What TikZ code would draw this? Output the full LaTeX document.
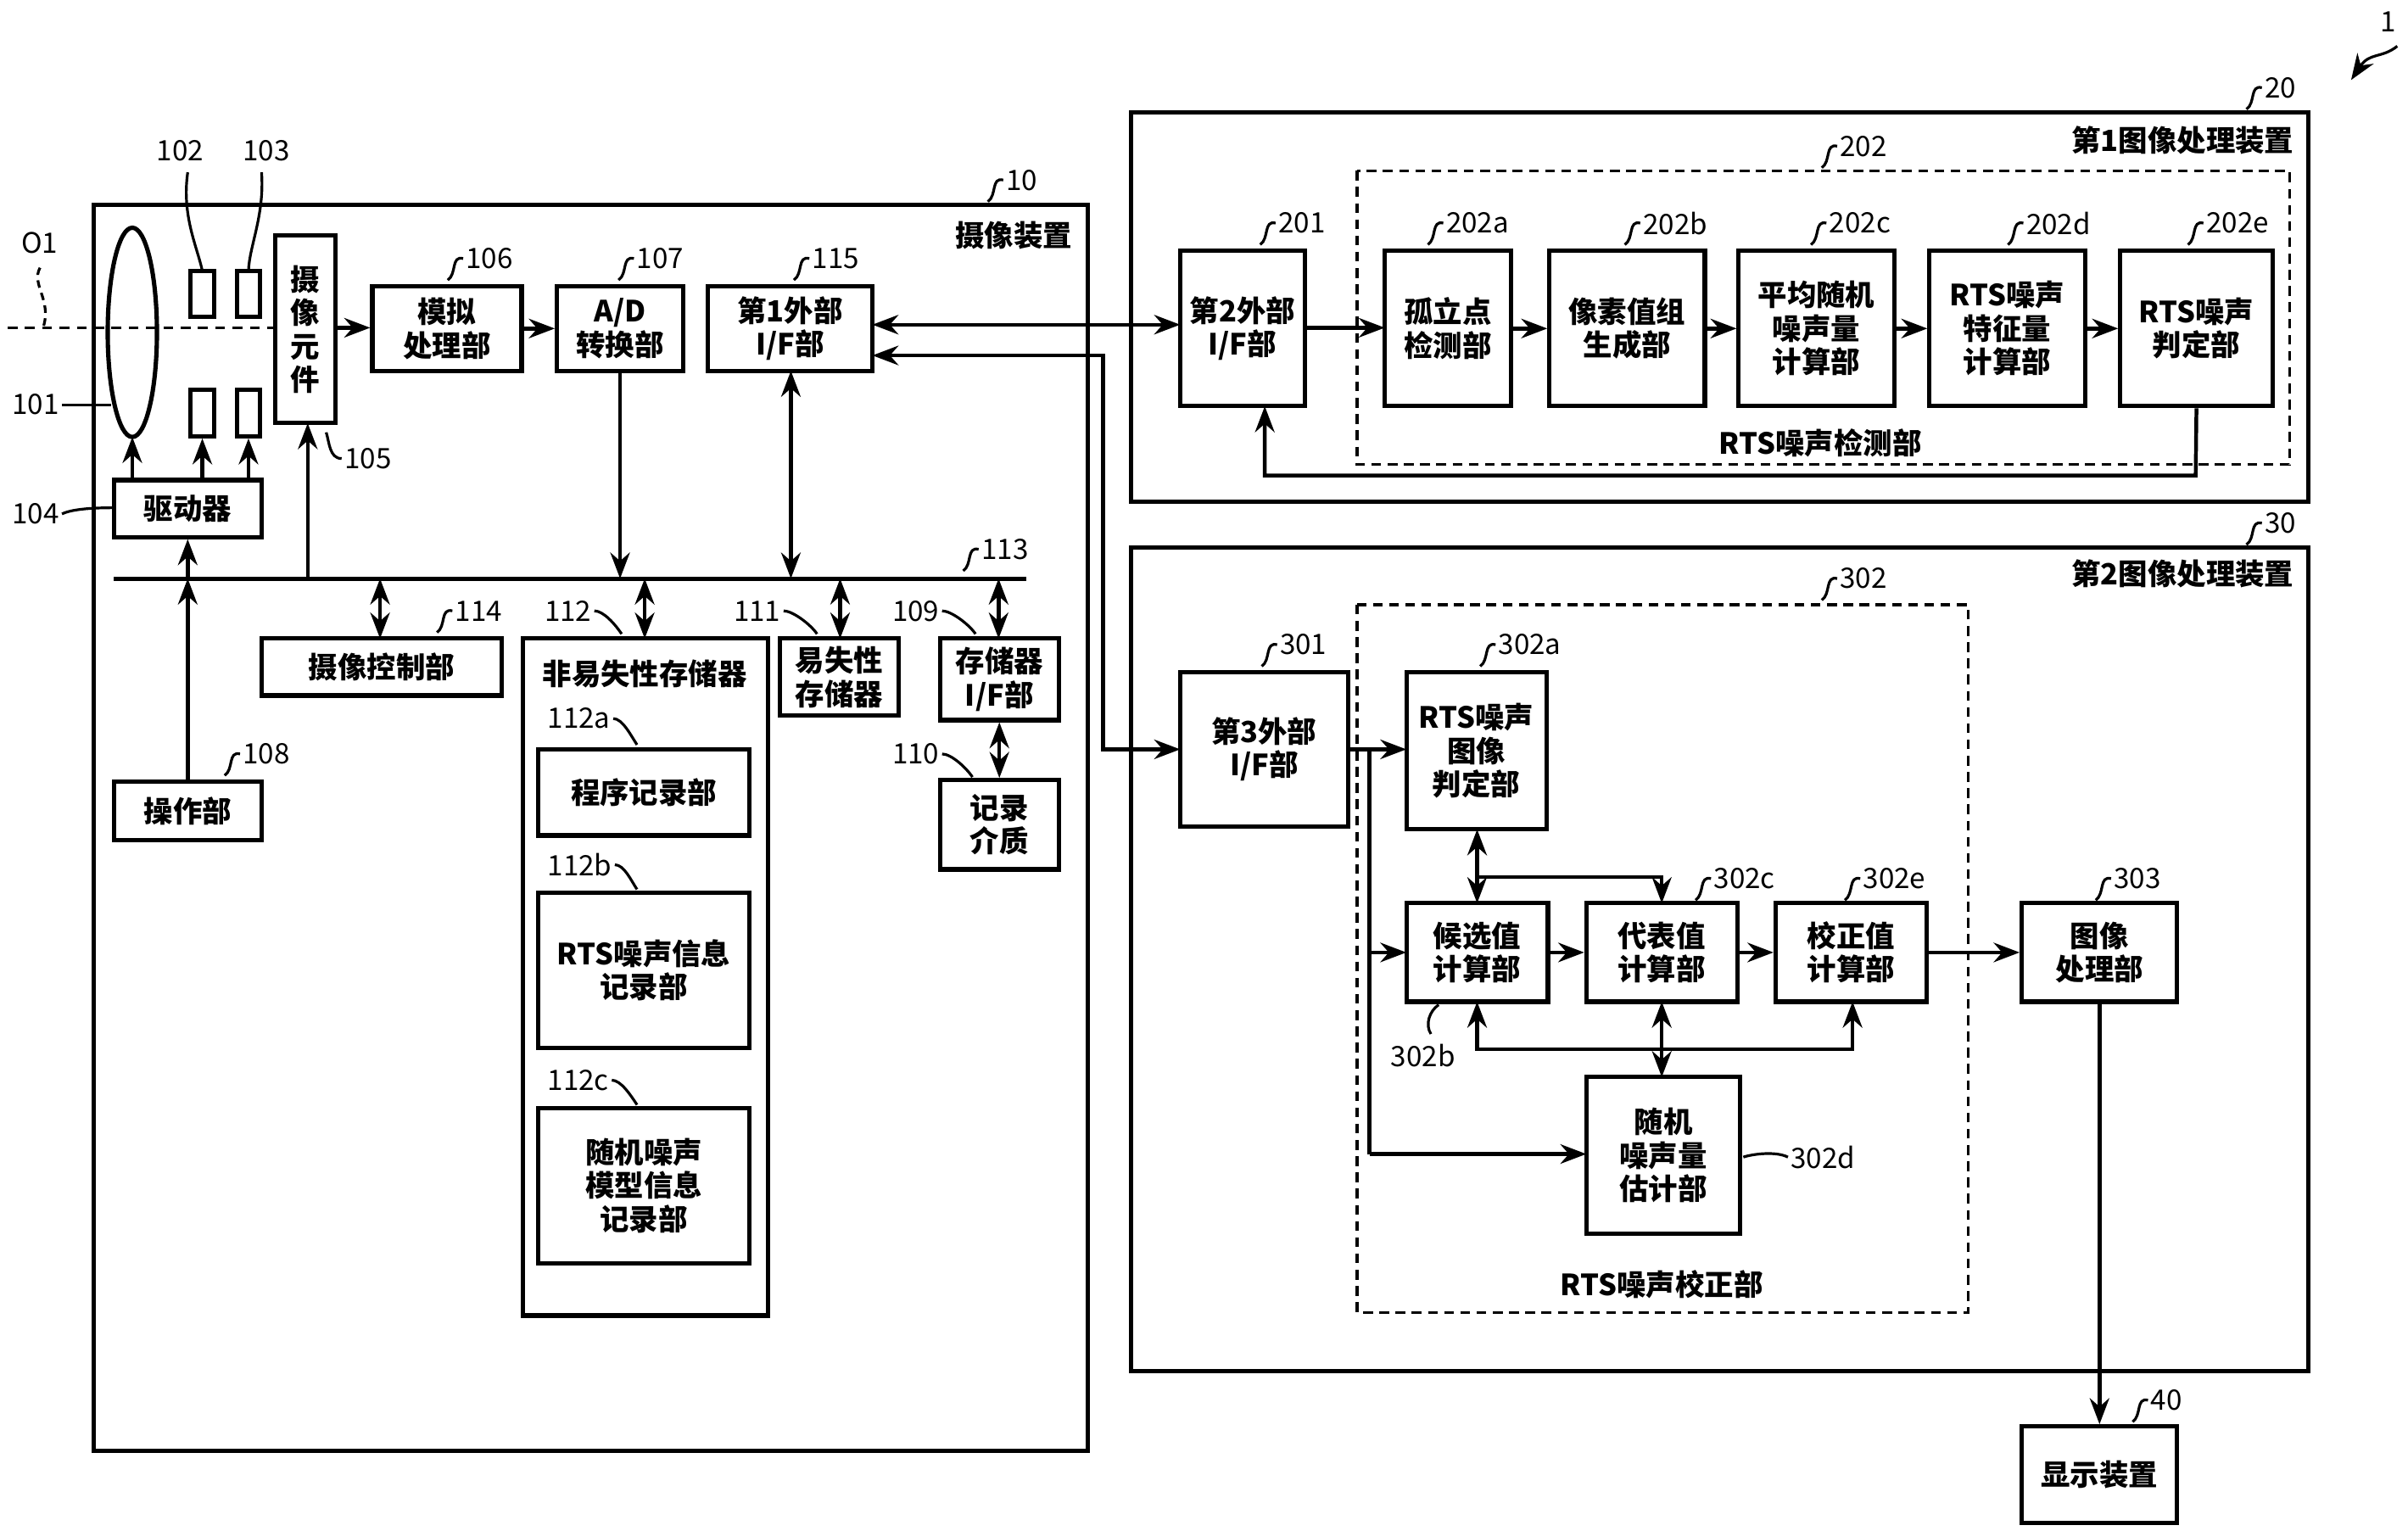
\documentclass[tikz,border=0pt]{standalone}
\usepackage{fontspec}
\setmainfont{Noto Sans CJK SC}
\usetikzlibrary{arrows.meta,shapes.geometric}
\begin{document}
\begin{tikzpicture}[x=0.05cm,y=-0.05cm,line width=3.5pt,
 box/.style={draw,line width=4pt,align=center,inner sep=0pt,font=\fontsize{27}{31}\selectfont\bfseries},
 ar/.style={-{Stealth[length=24pt,width=18pt]}},
 dar/.style={{Stealth[length=24pt,width=18pt]}-{Stealth[length=24pt,width=18pt]}},
 lb/.style={font=\fontsize{26}{28}\selectfont,anchor=west,inner sep=1pt},
 ttl/.style={font=\fontsize{27}{31}\selectfont\bfseries,inner sep=0pt},
 sq/.style={line width=2.5pt}]
\useasboundingbox (0,0) rectangle (1565,995);
\newcommand\bx[6]{\node[box,minimum width={(#4-#2)*0.05cm},minimum height={(#5-#3)*0.05cm}] (#1) at ({(#2+#4)/2},{(#3+#5)/2}) {#6};}
\newcommand\lbl[4]{\node[lb] (#1) at (#2,#3) {#4}; \draw[sq] (#1.west) .. controls +(-8,-2) and +(6,-4) .. +(-10,14);}
% frames
\draw[line width=4pt] (61,133) rectangle (707,943);
\draw[line width=4pt] (735,73) rectangle (1500,326);
\draw[line width=4pt] (735,356) rectangle (1500,891);
\draw[line width=2.5pt,dash pattern=on 9pt off 6pt] (882,111) rectangle (1488,302);
\draw[line width=2.5pt,dash pattern=on 9pt off 6pt] (882,393) rectangle (1279,853);
\node[ttl,anchor=east] at (698,153) {摄像装置};
\node[ttl,anchor=east] at (1492,91) {第1图像处理装置};
\node[ttl,anchor=east] at (1492,373) {第2图像处理装置};
\node[ttl] at (1183,288) {RTS噪声检测部};
\node[ttl] at (1080,835) {RTS噪声校正部};
% optics
\draw[dash pattern=on 9pt off 7pt,line width=2.5pt] (5,213) -- (179,213);
\node[draw,ellipse,line width=4pt,minimum width=32*0.05cm,minimum height=136*0.05cm,inner sep=0pt] (lens) at (86,216) {};
\node[draw,line width=4pt,minimum width=15*0.05cm,minimum height=30*0.05cm,inner sep=0pt] (r1) at (131.5,191) {};
\node[draw,line width=4pt,minimum width=15*0.05cm,minimum height=30*0.05cm,inner sep=0pt] (r2) at (161.5,191) {};
\node[draw,line width=4pt,minimum width=15*0.05cm,minimum height=30*0.05cm,inner sep=0pt] (r3) at (131.5,268.5) {};
\node[draw,line width=4pt,minimum width=15*0.05cm,minimum height=30*0.05cm,inner sep=0pt] (r4) at (161.5,268.5) {};
\bx{e105}{179}{153}{218}{275}{摄\\像\\元\\件}
\bx{d104}{74}{312}{170}{349}{驱动器}
\bx{b106}{242}{186}{339}{241}{模拟\\处理部}
\bx{b107}{362}{186}{444}{241}{A/D\\转换部}
\bx{b115}{460}{186}{567}{241}{第1外部\\I/F部}
\bx{b114}{170}{415}{326}{452}{摄像控制部}
\draw[line width=4pt] (340,415) rectangle (499,855);
\node[ttl] (b112) at (419,438) {非易失性存储器};
\bx{b112a}{350}{487}{487}{543}{程序记录部}
\bx{b112b}{350}{580}{487}{681}{RTS噪声信息\\记录部}
\bx{b112c}{350}{720}{487}{821}{随机噪声\\模型信息\\记录部}
\bx{b111}{507}{415}{584}{465}{易失性\\存储器}
\bx{b109}{611}{415}{688}{468}{存储器\\I/F部}
\bx{b110}{611}{507}{688}{565}{记录\\介质}
\bx{b108}{74}{508}{170}{546}{操作部}
\coordinate (bl) at (74,376); \coordinate (br) at (667,376);
\draw[line width=4pt] (bl) -- (br);
% arrows camera
\draw[ar] (86,312) -- (86,284);
\draw[ar] (131.5,312) -- (r3.south);
\draw[ar] (161.5,312) -- (r4.south);
\draw[ar] (122,376) -- (d104.south);
\draw[ar] (b108.north) -- (122,376);
\draw[ar] (200,376) -- (200,275);
\draw[ar] (e105.east |- 0,213) -- (b106.west |- 0,213);
\draw[ar] (b106) -- (b107);
\draw[ar] (403,241) -- (403,376);
\draw[dar] (514,241) -- (514,376);
\draw[dar] (247,376) -- (247,415);
\draw[dar] (419,376) -- (419,415);
\draw[dar] (546,376) -- (546,415);
\draw[dar] (649,376) -- (649,415);
\draw[dar] (b109) -- (b110);
% box 20
\bx{b201}{767}{163}{848}{264}{第2外部\\I/F部}
\bx{b202a}{900}{163}{982}{264}{孤立点\\检测部}
\bx{b202b}{1007}{163}{1108}{264}{像素值组\\生成部}
\bx{b202c}{1130}{163}{1231}{264}{平均随机\\噪声量\\计算部}
\bx{b202d}{1254}{163}{1355}{264}{RTS噪声\\特征量\\计算部}
\bx{b202e}{1378}{163}{1477}{264}{RTS噪声\\判定部}
\draw[dar] (567,211) -- (767,211);
\draw[ar] (848,213) -- (900,213);
\draw[ar] (b202a) -- (b202b);
\draw[ar] (b202b) -- (b202c);
\draw[ar] (b202c) -- (b202d);
\draw[ar] (b202d) -- (b202e);
\draw[ar] (b202e.south) -- (1427,309) -- (822,309) -- (822,264);
% box 30
\bx{b301}{767}{437}{876}{537}{第3外部\\I/F部}
\bx{b302a}{914}{437}{1005}{539}{RTS噪声\\图像\\判定部}
\bx{b302b}{914}{587}{1006}{651}{候选值\\计算部}
\bx{b302c}{1031}{587}{1129}{651}{代表值\\计算部}
\bx{b302e}{1154}{587}{1252}{651}{校正值\\计算部}
\bx{b302d}{1031}{700}{1131}{802}{随机\\噪声量\\估计部}
\bx{b303}{1314}{587}{1415}{651}{图像\\处理部}
\bx{b40}{1314}{927}{1415}{990}{显示装置}
\draw[dar] (567,231) -- (717,231) -- (717,487) -- (767,487);
\draw[ar] (876,487) -- (914,487);
\draw (890,487) -- (890,750);
\draw[ar] (890,619) -- (914,619);
\draw[ar] (890,750) -- (1031,750);
\draw[dar] (960,539) -- (960,587);
\draw[ar] (960,570) -- (1080,570) -- (1080,587);
\draw[ar] (b302b) -- (b302c);
\draw[ar] (b302c) -- (b302e);
\draw[ar] (b302e) -- (b303);
\draw[ar] (1080,682) -- (960,682) -- (960,651);
\draw[ar] (1080,682) -- (1204,682) -- (1204,651);
\draw[dar] (1080,651) -- (1080,700);
\draw[ar] (b303) -- (b40);
% labels
\lbl{l10}{652}{117}{10}
\lbl{l20}{1470}{57}{20}
\lbl{l30}{1470}{340}{30}
\lbl{l40}{1396}{910}{40}
\node[lb] (l1) at (1545,14) {1};
\draw[ar,line width=2.5pt] (1558,30) .. controls (1548,38) and (1540,34) .. (1528,52);
\node[lb] (l102) at (100,98) {102};
\draw[sq] (122,112) .. controls (118,140) and (128,160) .. (131.5,176);
\node[lb] (l103) at (156,98) {103};
\draw[sq] (170,112) .. controls (172,140) and (162,160) .. (161.5,176);
\node[lb] (lO1) at (12,158) {O1};
\draw[sq,dash pattern=on 7pt off 5pt] (26,174) .. controls (20,185) and (34,195) .. (28,213);
\node[lb] (l101) at (6,263) {101};
\draw[sq] (l101.east) -- (72,263);
\node[lb] (l104) at (6,334) {104};
\draw[sq] (l104.east) .. controls +(8,-4) and +(-6,0) .. (74,330);
\node[lb] (l105) at (222,298) {105};
\draw[sq] (l105.west) .. controls +(-8,0) and +(2,6) .. (212,281);
\lbl{l106}{301}{168}{106}
\lbl{l107}{412}{168}{107}
\lbl{l115}{526}{168}{115}
\lbl{l113}{636}{357}{113}
\lbl{l114}{294}{397}{114}
\node[lb] (l112) at (352,397) {112};
\draw[sq] (l112.east) .. controls +(6,0) and +(-4,-6) .. (404,412);
\node[lb] (l111) at (475,397) {111};
\draw[sq] (l111.east) .. controls +(6,0) and +(-4,-6) .. (531,412);
\node[lb] (l109) at (578,397) {109};
\draw[sq] (l109.east) .. controls +(6,0) and +(-4,-6) .. (634,412);
\node[lb] (l110) at (578,490) {110};
\draw[sq] (l110.east) .. controls +(6,0) and +(-4,-6) .. (632,505);
\node[lb] (l112a) at (354,467) {112a};
\draw[sq] (l112a.east) .. controls +(6,0) and +(-4,-6) .. (414,484);
\node[lb] (l112b) at (354,562) {112b};
\draw[sq] (l112b.east) .. controls +(6,0) and +(-4,-6) .. (414,578);
\node[lb] (l112c) at (354,702) {112c};
\draw[sq] (l112c.east) .. controls +(6,0) and +(-4,-6) .. (414,718);
\lbl{l108}{156}{490}{108}
\lbl{l201}{829}{145}{201}
\lbl{l202}{1194}{95}{202}
\lbl{l202a}{938}{145}{202a}
\lbl{l202b}{1066}{145}{202b}
\lbl{l202c}{1187}{145}{202c}
\lbl{l202d}{1315}{145}{202d}
\lbl{l202e}{1432}{145}{202e}
\lbl{l301}{830}{419}{301}
\lbl{l302}{1194}{376}{302}
\lbl{l302a}{972}{419}{302a}
\lbl{l302c}{1112}{571}{302c}
\lbl{l302e}{1209}{571}{302e}
\lbl{l303}{1372}{571}{303}
\node[lb] (l302b) at (902,686) {302b};
\draw[sq] (930,672) .. controls +(-4,-6) and +(-6,4) .. (935,653);
\node[lb] (l302d) at (1162,752) {302d};
\draw[sq] (l302d.west) .. controls +(-8,-4) and +(6,-2) .. (1133,752);
\end{tikzpicture}
\end{document}
